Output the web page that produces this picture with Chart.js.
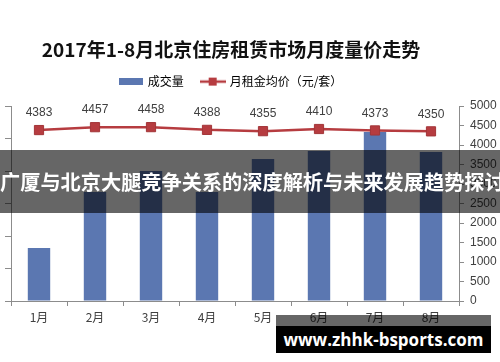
<!DOCTYPE html>
<html>
<head>
<meta charset="utf-8">
<script src="https://cdn.jsdelivr.net/npm/chart.js@4"></script>
<style>
  body { margin: 0; background: #fff; }
  #wrap { position: relative; width: 500px; height: 362px; overflow: hidden; }
  #myChart { position: absolute; left: -38px; top: 0; }
  .band {
    position: absolute; left: 0; top: 150px; width: 500px; height: 63px;
    background: rgba(0, 0, 0, 0.6); color: #fff;
    font: bold 20.2px "Noto Sans CJK SC"; line-height: 63px;
    text-align: center; white-space: nowrap;
  }
  .site-strip { position: absolute; left: 276px; top: 315px; width: 215px; height: 11px; background: rgba(0, 0, 0, 0.6); }
  .site {
    position: absolute; left: 276px; top: 326px; width: 215px; height: 27px;
    background: #000; color: #fff; font: bold 17px "Open Sans";
    line-height: 27px; text-align: center;
  }
</style>
</head>
<body>
<div id="wrap">
  <canvas id="myChart" width="538" height="362"></canvas>
  <div class="band">广厦与北京大腿竞争关系的深度解析与未来发展趋势探讨</div>
  <div class="site-strip"></div>
  <div class="site">www.zhhk-bsports.com</div>
</div>
<script>
const months = ['1月', '2月', '3月', '4月', '5月', '6月', '7月', '8月'];
const volume = [8150, 16770, 20000, 16770, 21850, 23080, 26000, 22920];
const rent = [4383, 4457, 4458, 4388, 4355, 4410, 4373, 4350];
const volumeMax = 30000, volumeStep = 5000;
const rentMax = 5000, rentStep = 500;

const barColor = '#5b77b1';
const lineColor = '#b63c40';
const axisColor = '#8c8c8c';

window.addEventListener('load', init);

function legendIcon(w, h, draw) {
    const c = document.createElement('canvas');
    c.width = w;
    c.height = h;
    draw(c.getContext('2d'));
    return c;
}

function init() {

    const barIcon = legendIcon(24, 7, g => {
        g.fillStyle = barColor;
        g.fillRect(0, 0, 24, 7);
    });
    const lineIcon = legendIcon(26, 10, g => {
        g.strokeStyle = lineColor;
        g.lineWidth = 2.5;
        g.beginPath();
        g.moveTo(0, 5);
        g.lineTo(26, 5);
        g.stroke();
        g.fillStyle = lineColor;
        g.fillRect(9, 1, 8, 8);
    });

    // values written above each rent point
    const pointLabels = {
        id: 'pointLabels',
        afterDatasetsDraw(chart) {
            const meta = chart.getDatasetMeta(1);
            const ctx = chart.ctx;
            ctx.save();
            ctx.font = '12px "Liberation Sans"';
            ctx.fillStyle = '#404040';
            ctx.textAlign = 'center';
            ctx.textBaseline = 'middle';
            meta.data.forEach((pt, i) => ctx.fillText(rent[i], pt.x, pt.y - 17));
            ctx.restore();
        }
    };

    const ctx = document.getElementById('myChart');
    new Chart(ctx, {
        type: 'bar',
        data: {
            labels: months,
            datasets: [
                {
                    label: '成交量',
                    data: volume,
                    backgroundColor: barColor,
                    xAxisID: 'x',
                    yAxisID: 'y',
                    barPercentage: 0.4,
                    categoryPercentage: 1,
                    order: 1
                },
                {
                    type: 'line',
                    label: '月租金均价（元/套）',
                    data: rent,
                    borderColor: lineColor,
                    backgroundColor: lineColor,
                    borderWidth: 2.5,
                    pointStyle: 'rect',
                    pointRadius: 6.5,
                    pointBorderWidth: 1,
                    pointBorderColor: '#a33538',
                    xAxisID: 'x',
                    yAxisID: 'y2',
                    order: 0
                }
            ]
        },
        options: {
            responsive: false,
            animation: false,
            layout: { padding: 0 },
            plugins: {
                tooltip: { enabled: false },
                title: {
                    display: true,
                    text: '2017年1-8月北京住房租赁市场月度量价走势',
                    color: '#111',
                    font: { family: 'Noto Sans CJK SC', size: 19, weight: 'bold', lineHeight: 0.8 },
                    padding: { top: 42.4, bottom: 0 }
                },
                legend: {
                    display: true,
                    labels: {
                        usePointStyle: true,
                        pointStyleWidth: 22,
                        padding: 18,
                        color: '#595959',
                        font: { family: 'Noto Sans CJK SC', size: 12 },
                        generateLabels: () => [
                            { text: '成交量', pointStyle: barIcon, fillStyle: barColor, strokeStyle: barColor, lineWidth: 0, datasetIndex: 0 },
                            { text: '月租金均价（元/套）', pointStyle: lineIcon, fillStyle: lineColor, strokeStyle: lineColor, lineWidth: 0, datasetIndex: 1 }
                        ]
                    }
                }
            },
            scales: {
                x: {
                    offset: true,
                    grid: { offset: true, drawOnChartArea: false, tickLength: 5, color: axisColor },
                    border: { color: axisColor },
                    ticks: { color: '#404040', font: { family: 'Noto Sans CJK SC', size: 12 }, padding: 4 },
                    afterFit: s => { s.height = 61; }
                },
                xTop: {
                    type: 'category',
                    position: 'top',
                    grid: { display: false },
                    border: { display: false },
                    ticks: { display: false },
                    afterFit: s => { s.height = 8.4; }
                },
                y: {
                    position: 'left',
                    min: 0,
                    max: volumeMax,
                    ticks: { display: false, stepSize: volumeStep },
                    grid: { drawOnChartArea: false, tickLength: 6, color: axisColor },
                    border: { color: axisColor },
                    afterFit: s => { s.width = 49; }
                },
                y2: {
                    position: 'right',
                    min: 0,
                    max: rentMax,
                    ticks: {
                        stepSize: rentStep,
                        color: '#404040',
                        font: { family: 'Liberation Sans', size: 12 },
                        padding: 6,
                        callback: v => String(v)
                    },
                    grid: { drawOnChartArea: false, tickLength: 5, color: axisColor },
                    border: { color: axisColor },
                    afterFit: s => { s.width = 41; }
                }
            }
        },
        plugins: [pointLabels]
    });
}
</script>
</body>
</html>
